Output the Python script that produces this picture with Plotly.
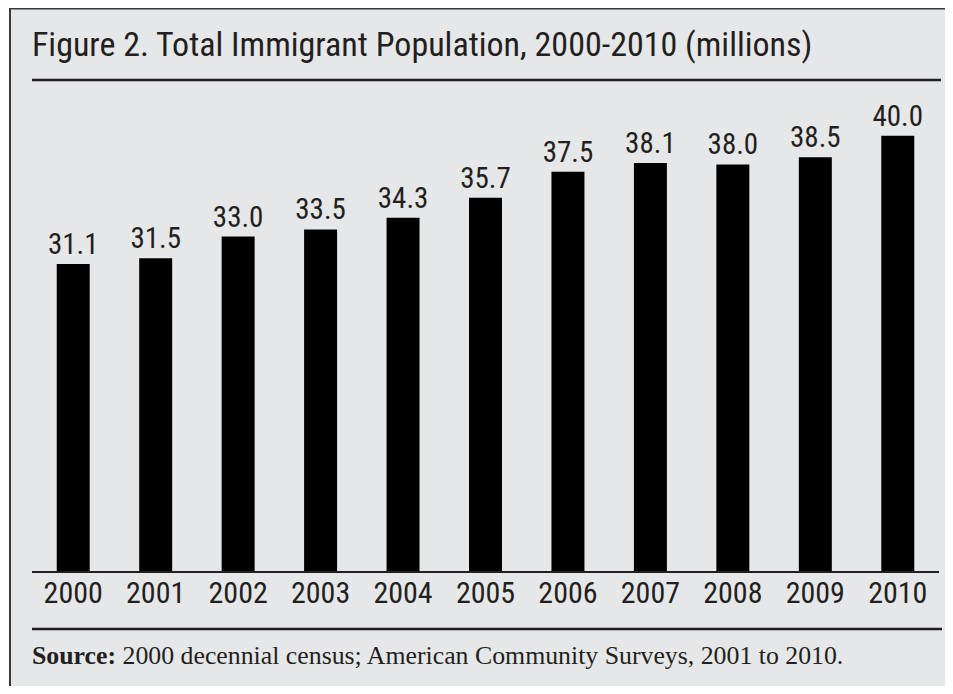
import plotly.graph_objects as go

years = ["2000", "2001", "2002", "2003", "2004", "2005", "2006", "2007", "2008", "2009", "2010"]
population = [31.1, 31.5, 33.0, 33.5, 34.3, 35.7, 37.5, 38.1, 38.0, 38.5, 40.0]
title_text = "Figure 2. Total Immigrant Population, 2000-2010 (millions)"
source_text = "<b>Source:</b> 2000 decennial census; American Community Surveys, 2001 to 2010."

# page is offset by the 8px body margin
OFF = 8
W, H = 953 - 2 * OFF, 694 - 2 * OFF


def px(x):
    return (x - OFF) / W


def py(y):
    return 1 - (y - OFF) / H


NARROW = "Roboto Condensed, Liberation Sans Narrow, sans-serif"
SERIF = "Liberation Serif, DejaVu Serif, serif"
INK = "#231f20"
BG = "#e6e7e8"

fig = go.Figure()
fig.add_trace(go.Bar(
    x=years, y=population,
    marker=dict(color="#000000", line=dict(width=0)),
    text=[f"{v:.1f}" for v in population],
    textposition="outside",
    constraintext="none",
    textfont=dict(family=NARROW, size=29, color=INK),
    outsidetextfont=dict(family=NARROW, size=29, color=INK),
    cliponaxis=False,
    width=0.4,
))

fig.update_layout(
    width=W, height=H,
    margin=dict(l=0, r=0, t=0, b=0),
    paper_bgcolor=BG,
    plot_bgcolor="rgba(0,0,0,0)",
    showlegend=False,
    xaxis=dict(
        domain=[px(32), px(939)],
        showgrid=False, zeroline=False, showline=False,
        ticks="", tickfont=dict(family=NARROW, size=30, color=INK),
        anchor="y",
    ),
    yaxis=dict(
        domain=[py(572), py(90)],
        range=[9.74, 9.74 + (572 - 90) / 14.42],
        visible=False,
    ),
    shapes=[
        # outer panel border
        dict(type="rect", xref="paper", yref="paper", layer="below",
             x0=px(10), x1=1.05, y0=-0.05, y1=py(8.6),
             fillcolor=BG, line=dict(color="#3a3a3a", width=2)),
        # white outside the panel
        dict(type="rect", xref="paper", yref="paper", layer="below",
             x0=-0.01, x1=px(9), y0=-0.05, y1=1.05,
             fillcolor="white", line=dict(width=0)),
        dict(type="rect", xref="paper", yref="paper", layer="below",
             x0=-0.01, x1=1.05, y0=py(7.6), y1=1.05,
             fillcolor="white", line=dict(width=0)),
        # title rule
        dict(type="line", xref="paper", yref="paper", x0=px(32), x1=px(941),
             y0=py(80), y1=py(80), line=dict(color=INK, width=2.5)),
        # baseline
        dict(type="line", xref="paper", yref="paper", x0=px(32), x1=px(939),
             y0=py(572), y1=py(572), line=dict(color=INK, width=2)),
        # bottom rule
        dict(type="line", xref="paper", yref="paper", x0=px(32), x1=px(942),
             y0=py(629), y1=py(629), line=dict(color=INK, width=2.5)),
    ],
    annotations=[
        dict(text=title_text, xref="paper", yref="paper", x=px(30), y=py(44),
             xanchor="left", yanchor="middle", showarrow=False,
             font=dict(family=NARROW, size=34, color=INK)),
        dict(text=source_text, xref="paper", yref="paper", x=px(30), y=py(655),
             xanchor="left", yanchor="middle", showarrow=False,
             font=dict(family=SERIF, size=25.8, color=INK)),
    ],
)

fig.write_html("out.html")
